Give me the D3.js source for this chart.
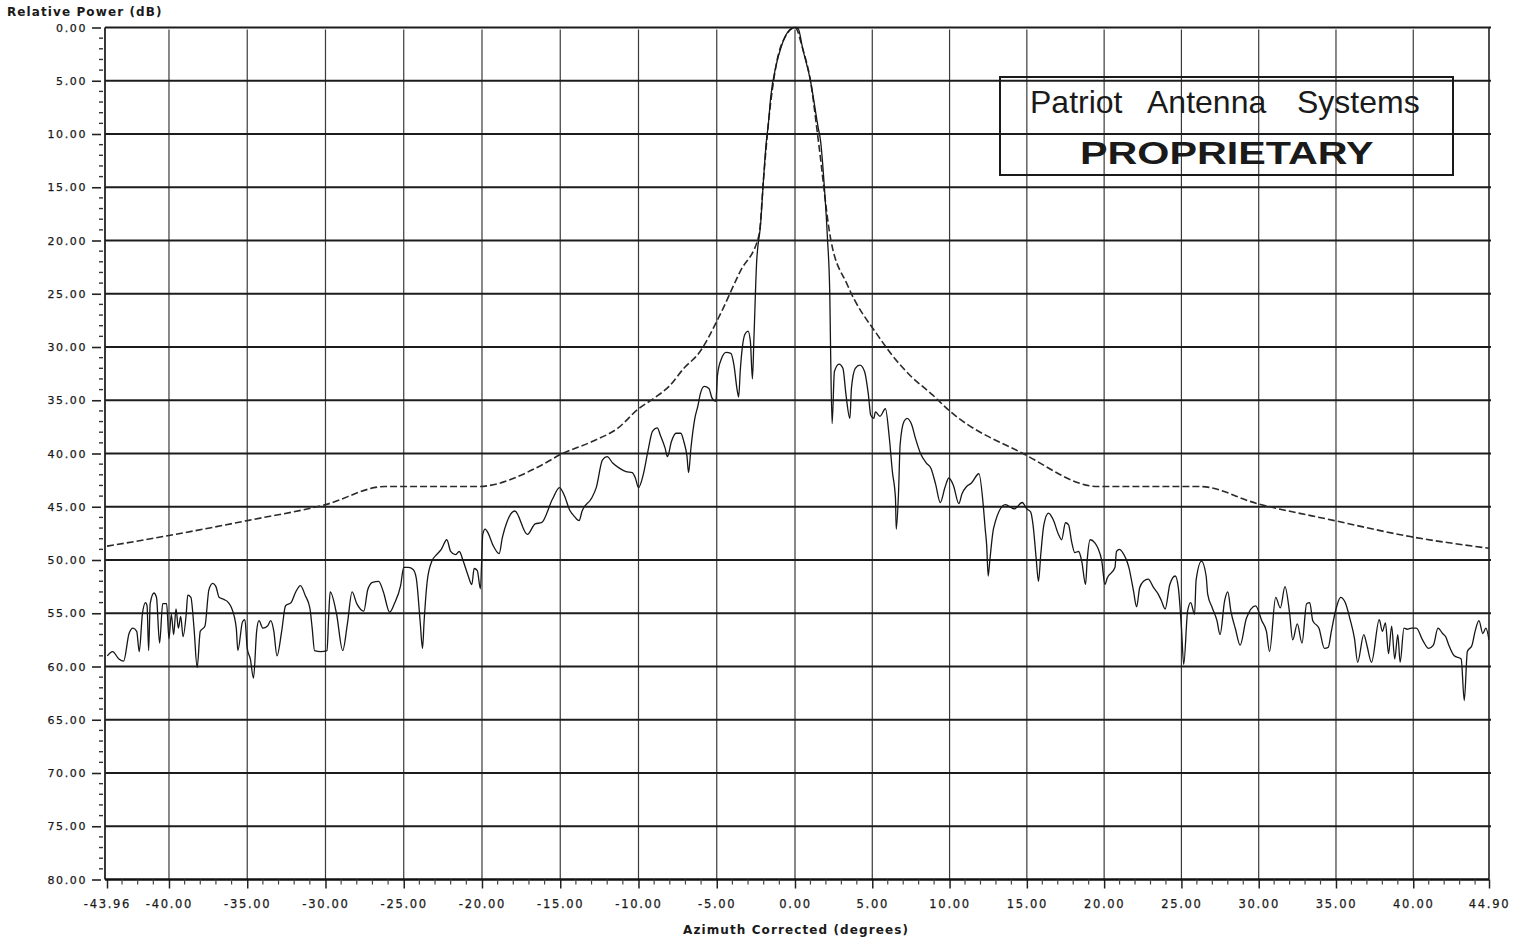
<!DOCTYPE html>
<html>
<head>
<meta charset="utf-8">
<script src="https://cdn.jsdelivr.net/npm/d3@7/dist/d3.min.js"></script>
<style>
  html, body { margin: 0; padding: 0; background: #fff; }
  svg { display: block; }
  text { font-family: "DejaVu Sans", sans-serif; fill: #1a1a1a; }
</style>
</head>
<body>
<svg id="chart" width="1523" height="942"></svg>
<script>
// ---------------- DATA ----------------
const xTicks = [-43.96, -40, -35, -30, -25, -20, -15, -10, -5, 0, 5, 10, 15, 20, 25, 30, 35, 40, 44.90];
const xTickLabels = ["-43.96", "-40.00", "-35.00", "-30.00", "-25.00", "-20.00", "-15.00", "-10.00", "-5.00",
  "0.00", "5.00", "10.00", "15.00", "20.00", "25.00", "30.00", "35.00", "40.00", "44.90"];
const yTicks = [0, 5, 10, 15, 20, 25, 30, 35, 40, 45, 50, 55, 60, 65, 70, 75, 80];
const yTickLabels = ["0.00", "5.00", "10.00", "15.00", "20.00", "25.00", "30.00", "35.00", "40.00", "45.00",
  "50.00", "55.00", "60.00", "65.00", "70.00", "75.00", "80.00"];

const yTitle = "Relative Power (dB)";
const xTitle = "Azimuth Corrected (degrees)";
const stampWords = ["Patriot", "Antenna", "Systems"];
const stampLine2 = "PROPRIETARY";

// Envelope (dashed) : azimuth deg, relative power dB
const maskAz = [-43.96, -40, -35, -30, -26.2, -20.3, -16.2, -15, -13, -11.3, -10, -9, -8.05, -7.1, -6.1, -4.9, -3.5, -2.3,
  -2.0, -1.7, -1.2, -0.6, 0, 0.5, 1.0, 1.5, 2.3, 3.4, 5.4, 6.3, 7.4, 8.9, 10, 14.75, 19.6, 26.2, 29.9, 34.9, 39.8, 44.9];
const maskDb = [48.7, 47.7, 46.3, 44.8, 43.1, 43.1, 41.1, 40.1, 38.9, 37.6, 35.8, 34.8, 33.7, 32.0, 30.5, 27.3, 22.9, 19.5,
  14.0, 9.0, 3.5, 0.8, 0.0, 2.0, 5.0, 10.5, 19.8, 24.2, 29.0, 30.8, 32.6, 34.5, 36.0, 40.0, 43.1, 43.1, 44.7, 46.3, 47.8, 48.9];

// Measured pattern (solid)
const measAz = [
  -43.94, -43.6, -43.2, -42.9, -42.55, -42.3, -42.06, -41.9, -41.7, -41.5, -41.4, -41.3, -41.2, -40.96, -40.8, -40.6,
  -40.4, -40.15, -40.0, -39.85, -39.7, -39.55, -39.4, -39.25, -39.1, -38.9, -38.8, -38.6, -38.4, -38.2, -38.0, -37.7,
  -37.45, -37.2, -37.0, -36.8, -36.5, -36.2, -36.0, -35.7, -35.6, -35.3, -35.15, -35.0, -34.8, -34.6, -34.4, -34.25,
  -34.0, -33.7, -33.5, -33.3, -33.1, -32.8, -32.55, -32.2, -31.9, -31.6, -31.3, -31.0, -30.85, -30.7, -30.3, -29.9,
  -29.8, -29.7, -29.3, -28.9, -28.6, -28.3, -28.0, -27.55, -27.3, -27.0, -26.6, -26.3, -25.9, -25.6, -25.2, -25.0,
  -24.7, -24.4, -24.2, -23.95, -23.8, -23.7, -23.5, -23.2, -22.9, -22.6, -22.25, -22.0, -21.7, -21.45, -21.2, -20.9,
  -20.65, -20.5, -20.3, -20.1, -19.95, -19.8, -19.6, -19.3, -18.9, -18.7, -18.4, -17.9, -17.1, -16.6, -16.2, -15.5,
  -15.05, -14.75, -14.4, -14.1, -13.8, -13.6, -13.0, -12.7, -12.3, -12.0, -11.65, -11.2, -10.8, -10.4, -10.2, -10.0,
  -9.7, -9.4, -9.1, -8.8, -8.6, -8.3, -8.15, -7.9, -7.6, -7.3, -7.1, -6.9, -6.8, -6.65, -6.4, -6.2, -6.05, -5.8, -5.5,
  -5.3, -5.06, -4.95, -4.7, -4.4, -4.1, -3.9, -3.7, -3.6, -3.5, -3.4, -3.2, -3.0, -2.85, -2.72, -2.62, -2.45, -2.2,
  -2.0, -1.85, -1.7, -1.55, -1.2, -0.9, -0.5, 0, 0.2, 0.5, 1.0, 1.5, 1.65, 1.9, 2.1, 2.25, 2.3, 2.4, 2.55, 2.85, 3.1,
  3.3, 3.55, 3.65, 3.9, 4.2, 4.5, 4.75, 4.9, 5.1, 5.2, 5.5, 5.85, 6.1, 6.3, 6.5, 6.55, 6.7, 6.8, 7.05, 7.25, 7.55, 7.8,
  8.15, 8.5, 8.8, 9.1, 9.4, 9.7, 9.95, 10.25, 10.6, 10.8, 11.1, 11.4, 11.9, 12.2, 12.3, 12.4, 12.5, 12.6, 12.85, 13.6,
  14.2, 14.7, 15.0, 15.25, 15.4, 15.6, 15.75, 15.9, 16.1, 16.4, 16.7, 17.05, 17.25, 17.5, 17.7, 17.9, 18.1, 18.35,
  18.55, 18.8, 18.9, 19.1, 19.4, 19.6, 19.85, 20.05, 20.2, 20.7, 20.8, 21.0, 21.2, 21.6, 21.9, 22.1, 22.3, 22.55,
  22.85, 23.2, 23.5, 23.7, 23.95, 24.25, 24.6, 24.8, 25.0, 25.15, 25.4, 25.6, 25.85, 25.95, 26.3, 26.6, 26.7, 27.0,
  27.3, 27.5, 27.8, 28.0, 28.2, 28.5, 28.8, 29.2, 29.8, 30.2, 30.5, 30.7, 31.1, 31.4, 31.7, 32.0, 32.2, 32.5, 32.8,
  33.1, 33.3, 33.5, 33.9, 34.25, 34.5, 34.7, 35.0, 35.3, 35.6, 35.9, 36.2, 36.4, 36.8, 37.0, 37.3, 37.8, 38.0, 38.2,
  38.4, 38.6, 38.8, 39.0, 39.15, 39.4, 39.6, 39.9, 40.2, 40.6, 41.0, 41.3, 41.6, 41.9, 42.1, 42.3, 42.65, 43.1, 43.3,
  43.5, 43.8, 44.0, 44.25, 44.5, 44.7, 44.9];
const measDb = [
  59.0, 58.6, 59.3, 59.5, 56.9, 56.4, 56.7, 58.6, 55.1, 54.0, 54.3, 58.5, 54.1, 53.1, 53.5, 57.8,
  54.1, 54.1, 57.4, 55.1, 57.0, 54.6, 56.4, 55.3, 57.2, 55.1, 53.3, 53.5, 56.4, 60.1, 56.7, 56.2,
  52.8, 52.2, 52.5, 53.5, 53.7, 54.0, 54.5, 56.4, 58.5, 55.8, 55.6, 58.3, 59.3, 61.1, 56.7, 55.7,
  56.4, 56.2, 55.7, 56.7, 59.0, 56.7, 54.3, 54.0, 53.0, 52.4, 53.3, 54.5, 56.4, 58.5, 58.6, 58.5,
  55.4, 53.0, 55.0, 58.5, 56.0, 53.0, 54.1, 54.8, 52.8, 52.1, 52.0, 53.0, 54.9, 54.1, 52.4, 50.7,
  50.7, 50.9, 51.7, 55.8, 58.3, 55.8, 52.0, 50.1, 49.5, 49.0, 48.1, 49.2, 49.5, 49.2, 50.1, 51.4,
  52.3, 50.8, 51.0, 52.7, 47.6, 47.1, 47.5, 48.6, 49.4, 47.9, 46.4, 45.4, 47.6, 46.6, 46.5, 44.3,
  43.2, 43.9, 45.3, 45.9, 46.3, 45.4, 44.2, 43.2, 40.6, 40.3, 40.9, 41.4, 41.7, 41.8, 42.3, 43.2,
  42.0, 39.8, 37.9, 37.6, 38.3, 39.5, 40.3, 38.9, 38.1, 38.1, 38.9, 40.3, 41.8, 39.5, 36.7, 35.5, 34.4, 33.7, 33.9,
  34.8, 35.1, 32.6, 31.1, 30.5, 30.6, 31.7, 34.0, 34.7, 32.3, 30.5, 28.8, 28.5, 29.5, 33.0, 29.0, 22.0, 18.5,
  14.0, 11.0, 9.0, 6.5, 3.5, 1.9, 0.5, 0.0, 0.1, 2.0, 5.0, 9.4, 10.6, 15.0, 19.8, 25.0, 30.0, 37.2, 32.3, 31.6, 32.0,
  34.5, 36.7, 33.9, 32.0, 31.7, 32.3, 34.5, 36.4, 36.7, 36.1, 36.5, 35.8, 38.5, 41.7, 44.2, 47.1, 43.6, 39.2, 37.0, 36.7, 37.3, 38.6,
  40.1, 40.9, 41.4, 42.9, 44.6, 43.2, 42.3, 43.0, 44.7, 43.8, 43.1, 42.8, 41.9, 45.2, 47.0, 48.6, 51.5, 50.1, 47.0, 44.8,
  45.2, 44.6, 45.2, 45.5, 46.7, 49.8, 52.0, 49.5, 46.7, 45.6, 46.2, 47.6, 48.1, 46.5, 46.7, 48.3, 49.3, 49.2,
  50.1, 52.3, 50.1, 48.1, 48.4, 48.9, 50.1, 52.3, 51.7, 50.7, 49.2, 49.0, 49.3, 50.7, 52.9, 54.4, 52.6, 52.0,
  51.8, 52.6, 53.2, 53.8, 54.6, 52.3, 51.5, 52.6, 56.3, 59.8, 54.8, 54.0, 55.1, 51.9, 50.1, 51.5, 53.2, 54.5,
  55.7, 57.0, 53.8, 53.0, 54.8, 56.5, 58.0, 55.5, 54.3, 55.7, 56.7, 58.6, 53.5, 54.5, 52.5, 55.0, 57.5, 56.0, 57.8,
  54.1, 54.0, 55.7, 56.4, 58.3, 58.2, 56.7, 54.6, 53.5, 54.0, 55.5, 57.4, 59.6, 57.0, 58.0, 59.6, 55.6, 56.7, 55.9,
  58.8, 56.2, 59.3, 57.0, 59.6, 56.4, 56.5, 56.4, 56.4, 57.5, 58.3, 58.0, 56.4, 56.9, 57.2, 58.0, 59.0, 59.3, 63.2,
  58.6, 58.0, 56.7, 55.7, 56.9, 56.4, 57.5];

// ---------------- DRAW ----------------
const svg = d3.select("#chart");
const W = 1523, H = 942;
const pLeft = 105, pRight = 1489, pTop = 27.5, pBottom = 879.5;

const x = d3.scaleLinear().domain([-43.96, 0, 44.90]).range([107, 795, 1489]);
const y = d3.scaleLinear().domain([0, 80]).range([pTop, pBottom]);

svg.append("rect").attr("width", W).attr("height", H).attr("fill", "#fff");

svg.append("defs").append("clipPath").attr("id", "plotclip")
  .append("rect").attr("x", pLeft).attr("y", pTop - 2).attr("width", pRight - pLeft).attr("height", pBottom - pTop + 2);

// vertical grid lines
const grid = svg.append("g");
grid.selectAll("line.v").data(xTicks.filter(t => t > -43 && t < 44)).enter().append("line")
  .attr("class", "v")
  .attr("x1", d => x(d)).attr("x2", d => x(d))
  .attr("y1", pTop + 2).attr("y2", pBottom)
  .attr("stroke", "#3a3a3a").attr("stroke-width", 1.2);

// right border
grid.append("line").attr("x1", pRight).attr("x2", pRight).attr("y1", pTop).attr("y2", pBottom)
  .attr("stroke", "#222").attr("stroke-width", 1.6);

// horizontal grid lines
grid.selectAll("line.h").data(yTicks.filter(t => t < 80)).enter().append("line")
  .attr("class", "h")
  .attr("x1", pLeft).attr("x2", pRight + 2)
  .attr("y1", d => y(d)).attr("y2", d => y(d))
  .attr("stroke", "#1c1c1c").attr("stroke-width", 2);

// y axis
const yAxis = d3.axisLeft(y).tickValues(yTicks).tickFormat((d, i) => yTickLabels[i]).tickSize(9).tickPadding(5);
const gy = svg.append("g").attr("transform", `translate(${pLeft - 4},0)`).call(yAxis);
gy.select(".domain").remove();
gy.selectAll(".tick line").attr("stroke", "#222").attr("stroke-width", 1.6);
gy.selectAll(".tick text").attr("font-size", 11).attr("letter-spacing", "1.6px")
  .attr("fill", "#1a1a1a").attr("stroke", "#1a1a1a").attr("stroke-width", 0.25);
svg.append("line").attr("x1", pLeft).attr("x2", pLeft).attr("y1", pTop).attr("y2", pBottom)
  .attr("stroke", "#222").attr("stroke-width", 1.8);
// y minor ticks
svg.append("g").selectAll("line").data(d3.range(0, 81, 1).filter(v => v % 5 !== 0)).enter().append("line")
  .attr("x1", pLeft - 6).attr("x2", pLeft - 2)
  .attr("y1", d => y(d)).attr("y2", d => y(d))
  .attr("stroke", "#333").attr("stroke-width", 1.4);

// x axis
const xAxis = d3.axisBottom(x).tickValues(xTicks).tickFormat((d, i) => xTickLabels[i]).tickSize(9).tickPadding(11);
const gx = svg.append("g").attr("transform", `translate(0,${pBottom})`).call(xAxis);
gx.select(".domain").remove();
gx.selectAll(".tick line").attr("stroke", "#222").attr("stroke-width", 1.5);
gx.selectAll(".tick text").attr("font-size", 11.5).attr("letter-spacing", "1.7px")
  .attr("fill", "#1a1a1a").attr("stroke", "#1a1a1a").attr("stroke-width", 0.25);
svg.append("line").attr("x1", pLeft).attr("x2", pRight).attr("y1", pBottom).attr("y2", pBottom)
  .attr("stroke", "#111").attr("stroke-width", 2.4);
// x minor ticks
svg.append("g").selectAll("line").data(d3.range(-43, 45, 1).filter(v => v % 5 !== 0)).enter().append("line")
  .attr("x1", d => x(d)).attr("x2", d => x(d))
  .attr("y1", pBottom).attr("y2", pBottom + 5)
  .attr("stroke", "#444").attr("stroke-width", 1.2);

// data layers
const plot = svg.append("g").attr("clip-path", "url(#plotclip)");
const line = d3.line().x(d => x(d[0])).y(d => y(d[1])).curve(d3.curveMonotoneX);

const maskPts = maskAz.map((a, i) => [a, maskDb[i]]);
plot.append("path").datum(maskPts).attr("d", line)
  .attr("fill", "none").attr("stroke", "#2a2a2a").attr("stroke-width", 1.6)
  .attr("stroke-dasharray", "7,3");

const measPts = measAz.map((a, i) => [a, measDb[i]]);
plot.append("path").datum(measPts).attr("d", line)
  .attr("fill", "none").attr("stroke", "#161616").attr("stroke-width", 1.3)
  .attr("stroke-linejoin", "round");

// titles
svg.append("text").attr("x", 7).attr("y", 16).attr("font-size", 12).attr("font-weight", "bold")
  .attr("letter-spacing", "1.1px").text(yTitle);
svg.append("text").attr("x", 796).attr("y", 934).attr("text-anchor", "middle").attr("font-size", 12)
  .attr("font-weight", "bold").attr("letter-spacing", "1.1px").text(xTitle);

// stamp
const stamp = svg.append("g");
stamp.append("rect").attr("x", 1000).attr("y", 77).attr("width", 453).attr("height", 98)
  .attr("fill", "none").attr("stroke", "#1a1a1a").attr("stroke-width", 2);
const wordX = [1030, 1147, 1297];
const t1 = stamp.append("text").attr("y", 113).attr("font-size", 32)
  .style("font-family", "'Liberation Sans', Arial, sans-serif");
stampWords.forEach((w, i) => t1.append("tspan").attr("x", wordX[i]).text(w));
stamp.append("text")
  .attr("transform", "translate(1080,164) scale(1.29,1)")
  .attr("x", 0).attr("y", 0)
  .attr("font-size", 32).attr("font-weight", "bold")
  .style("font-family", "'Liberation Sans', Arial, sans-serif").attr("fill", "#2a2a2a").text(stampLine2);
</script>
</body>
</html>
